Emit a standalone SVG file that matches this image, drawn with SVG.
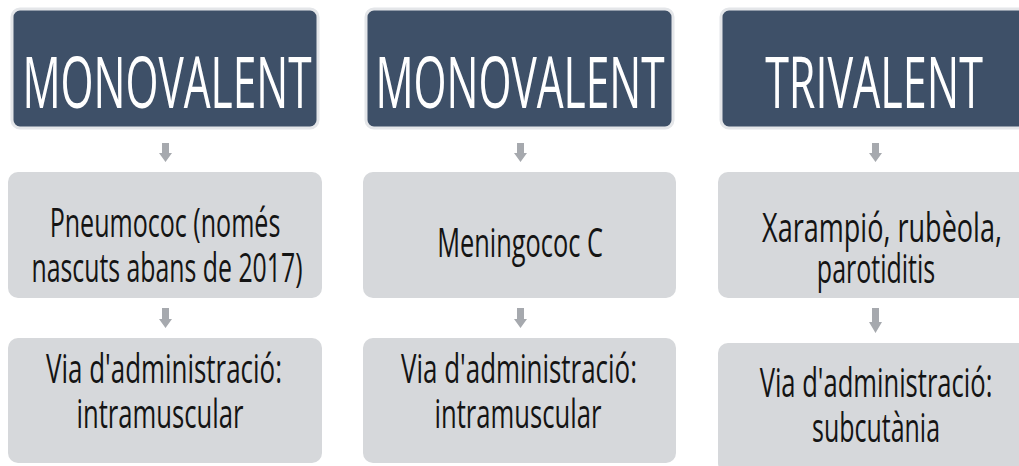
<svg xmlns="http://www.w3.org/2000/svg" width="1019" height="466" viewBox="0 0 1019 466">
<style>
.hdr{fill:#3e5068;stroke:#e4e6e9;stroke-width:3}
.box{fill:#d6d8db}
.ht{font-family:"Open Sans","Noto Sans",sans-serif;font-size:71px;fill:#ffffff;text-anchor:middle}
.bt{font-family:"Open Sans","Noto Sans",sans-serif;font-size:40px;fill:#141414;text-anchor:middle}
.arr{fill:#a6a9ae}
</style>
<rect width="1019" height="466" fill="#ffffff"/>
<g id="h1"><rect class="hdr" x="12" y="9" width="306" height="119" rx="8"/><text class="ht" transform="translate(167,108) scale(0.65,1)" textLength="445" lengthAdjust="spacingAndGlyphs">MONOVALENT</text></g>
<g id="h2"><rect class="hdr" x="366" y="9" width="307" height="119" rx="8"/><text class="ht" transform="translate(520,108) scale(0.65,1)" textLength="445" lengthAdjust="spacingAndGlyphs">MONOVALENT</text></g>
<g id="h3"><rect class="hdr" x="721" y="9" width="310" height="119" rx="8"/><text class="ht" transform="translate(874,108) scale(0.65,1)" textLength="335" lengthAdjust="spacingAndGlyphs">TRIVALENT</text></g>
<g id="b1"><rect class="box" x="8" y="172" width="314" height="126" rx="10"/><text class="bt" transform="translate(165,237) scale(0.65,1)" textLength="355" lengthAdjust="spacingAndGlyphs">Pneumococ (només</text><text class="bt" transform="translate(167,282) scale(0.65,1)" textLength="417" lengthAdjust="spacingAndGlyphs">nascuts abans de 2017)</text></g>
<g id="b2"><rect class="box" x="363" y="172" width="313" height="126" rx="10"/><text class="bt" transform="translate(520,257) scale(0.65,1)" textLength="255" lengthAdjust="spacingAndGlyphs">Meningococ C</text></g>
<g id="b3"><rect class="box" x="718" y="172" width="313" height="126" rx="10"/><text class="bt" transform="translate(882,242) scale(0.65,1)" textLength="369" lengthAdjust="spacingAndGlyphs">Xarampió, rubèola,</text><text class="bt" transform="translate(876,283) scale(0.65,1)" textLength="182" lengthAdjust="spacingAndGlyphs">parotiditis</text></g>
<g id="c1"><rect class="box" x="8" y="338" width="314" height="125" rx="10"/><text class="bt" transform="translate(164,383) scale(0.65,1)" textLength="363" lengthAdjust="spacingAndGlyphs">Via d'administració:</text><text class="bt" transform="translate(160,428) scale(0.65,1)" textLength="257" lengthAdjust="spacingAndGlyphs">intramuscular</text></g>
<g id="c2"><rect class="box" x="363" y="338" width="313" height="125" rx="10"/><text class="bt" transform="translate(519,383) scale(0.65,1)" textLength="363" lengthAdjust="spacingAndGlyphs">Via d'administració:</text><text class="bt" transform="translate(518,428) scale(0.65,1)" textLength="257" lengthAdjust="spacingAndGlyphs">intramuscular</text></g>
<g id="c3"><rect class="box" x="718" y="343" width="313" height="130" rx="10"/><text class="bt" transform="translate(876,397) scale(0.65,1)" textLength="358" lengthAdjust="spacingAndGlyphs">Via d'administració:</text><text class="bt" transform="translate(876,442) scale(0.65,1)" textLength="197" lengthAdjust="spacingAndGlyphs">subcutània</text></g>
<g id="connectors">
<path class="arr" d="M162,143 h7 v10 h3 l-6.5,9 l-6.5,-9 h3 z"/>
<path class="arr" d="M517,143 h7 v10 h3 l-6.5,9 l-6.5,-9 h3 z"/>
<path class="arr" d="M872,143 h7 v10 h3 l-6.5,9 l-6.5,-9 h3 z"/>
<path class="arr" d="M162,308 h7 v11 h3 l-6.5,9 l-6.5,-9 h3 z"/>
<path class="arr" d="M517,308 h7 v11 h3 l-6.5,9 l-6.5,-9 h3 z"/>
<path class="arr" d="M872,308 h7 v14 h3 l-6.5,11 l-6.5,-11 h3 z"/>
</g>
</svg>
